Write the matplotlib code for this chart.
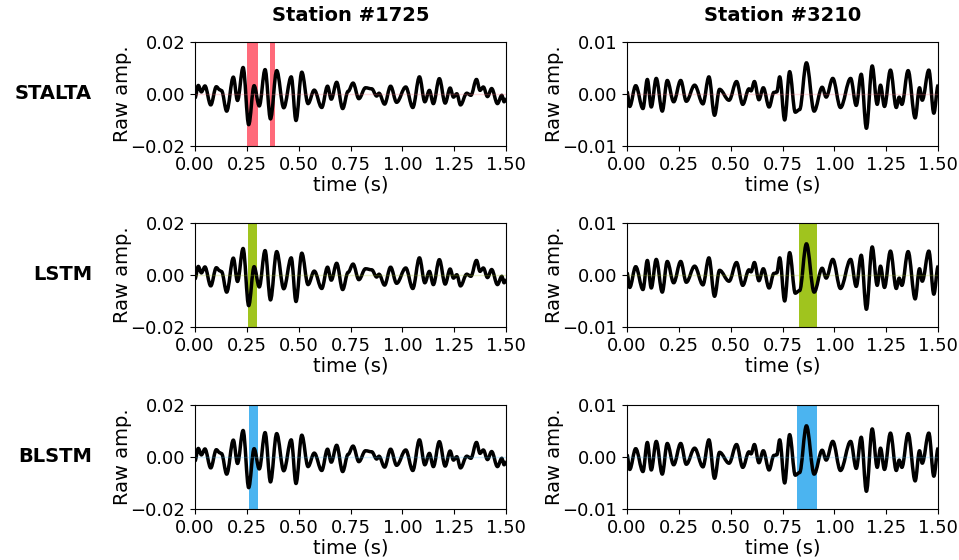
import numpy as np
import matplotlib
matplotlib.use('Agg')
import matplotlib.pyplot as plt
from matplotlib.path import Path
from matplotlib.patches import PathPatch

# waveform extrema (amplitude in units of 1e-3)
t_1725 = [0.000, 0.016, 0.031, 0.048, 0.076, 0.103, 0.120, 0.128, 0.153, 0.185,
          0.205, 0.232, 0.259, 0.285, 0.310, 0.338, 0.364, 0.394, 0.428, 0.464,
          0.487, 0.515, 0.545, 0.575, 0.611, 0.639, 0.657, 0.683, 0.712, 0.738,
          0.762, 0.790, 0.822, 0.852, 0.876, 0.887, 0.914, 0.943, 0.972, 1.016,
          1.050, 1.082, 1.108, 1.130, 1.149, 1.178, 1.206, 1.230, 1.246, 1.262,
          1.280, 1.310, 1.330, 1.357, 1.374, 1.390, 1.410, 1.430, 1.458, 1.479,
          1.490, 1.500]
a_1725 = [-1.5, 3.3, 0.8, 3.1, -4.2, 2.8, 1.6, 1.3, -6.6, 6.5,
          -2.5, 10.2, -11.8, 3.2, -4.6, 9.4, -9.6, 9.0, -5.3, 6.6,
          -10.2, 8.4, -3.7, 1.5, -5.2, 3.0, -2.0, 4.5, -5.6, 1.0,
          4.2, -1.8, 2.4, 2.0, -0.8, 0.3, -3.9, 3.0, -3.2, 2.7,
          -5.2, 6.6, -3.0, 1.4, -3.7, 5.9, -3.5, 2.3, -1.2, 0.1,
          -4.2, 0.3, -0.5, 5.6, 1.4, 2.7, -1.0, 2.1, -3.7, -0.5,
          -3.0, -1.8]

t_3210 = [0.000, 0.013, 0.042, 0.077, 0.098, 0.117, 0.141, 0.170, 0.194, 0.225,
          0.259, 0.286, 0.326, 0.366, 0.395, 0.422, 0.446, 0.492, 0.528, 0.558,
          0.588, 0.598, 0.614, 0.636, 0.657, 0.685, 0.708, 0.722, 0.736, 0.760,
          0.784, 0.811, 0.832, 0.865, 0.902, 0.941, 0.960, 0.992, 1.029, 1.078,
          1.105, 1.129, 1.154, 1.182, 1.206, 1.222, 1.241, 1.270, 1.298, 1.312,
          1.325, 1.355, 1.389, 1.410, 1.423, 1.455, 1.479, 1.500]
a_3210 = [0.4, -2.4, 1.6, -2.8, 2.8, -2.5, 3.0, -3.3, 2.6, -1.5,
          2.6, -1.4, 1.7, -1.9, 3.3, -4.1, 0.9, -1.2, 2.4, -2.0,
          1.0, 0.6, 2.4, -1.1, 1.2, -2.5, 0.3, 0.4, 3.3, -5.0,
          4.3, -3.5, -3.0, 6.0, -3.3, 1.3, -0.6, 3.0, -2.6, 3.0,
          -2.2, 3.8, -6.6, 5.4, -2.0, 1.7, -2.4, 4.6, -2.6, -0.6,
          -2.0, 4.5, -4.6, 1.2, -1.2, 4.6, -3.7, 1.7]

methods = ['STALTA', 'LSTM', 'BLSTM']
stations = ['Station #1725', 'Station #3210']
colors = ['#ff6a7a', '#a0c41e', '#4bb4f0']

# detected windows (s)
stalta_1725 = [(0.252, 0.302), (0.362, 0.386)]
stalta_3210 = []
lstm_1725 = [(0.257, 0.300)]
lstm_3210 = [(0.830, 0.914)]
blstm_1725 = [(0.259, 0.305)]
blstm_3210 = [(0.819, 0.914)]

windows = [[stalta_1725, stalta_3210],
           [lstm_1725, lstm_3210],
           [blstm_1725, blstm_3210]]
waves = [(t_1725, a_1725), (t_3210, a_3210)]
ylims = [0.02, 0.01]


def smooth_path(t, a):
    # cubic bezier through the extrema, flat tangent at each one
    a = np.array(a) * 1e-3
    verts = [(t[0], a[0])]
    codes = [Path.MOVETO]
    for i in range(len(t) - 1):
        dt = t[i + 1] - t[i]
        verts += [(t[i] + 0.36 * dt, a[i]), (t[i + 1] - 0.36 * dt, a[i + 1]),
                  (t[i + 1], a[i + 1])]
        codes += [Path.CURVE4] * 3
    return Path(verts, codes)


plt.rcParams['font.family'] = 'DejaVu Sans'
fig = plt.figure(figsize=(9.59, 5.6), dpi=100)

lefts = [0.2033, 0.6538]
bottoms = [0.7393, 0.4161, 0.0911]
w, h = 0.3245, 0.1857

for r, m in enumerate(methods):
    for c in range(2):
        ax = fig.add_axes([lefts[c], bottoms[r], w, h])
        for (x0, x1) in windows[r][c]:
            ax.axvspan(x0, x1, color=colors[r], lw=0)
        ax.axhline(0, color=colors[r], alpha=0.25, lw=1)
        t, a = waves[c]
        ax.add_patch(PathPatch(smooth_path(t, a), fill=False, edgecolor='black',
                               lw=2.5, joinstyle='round', capstyle='butt'))
        ax.set_xlim(0, 1.5)
        ax.set_ylim(-ylims[c], ylims[c])
        ax.set_xticks(np.arange(0, 1.51, 0.25))
        ax.set_yticks([-ylims[c], 0, ylims[c]])
        ax.tick_params(labelsize=13)
        ax.set_xlabel('time (s)', fontsize=14, labelpad=1)
        ax.set_ylabel('Raw amp.', fontsize=14, labelpad=-1)
        if r == 0:
            ax.set_title(stations[c], fontsize=14, fontweight='bold', pad=15)
    fig.text(0.096, bottoms[r] + h / 2, m, fontsize=14, fontweight='bold',
             ha='right', va='center')

plt.savefig('out.png', dpi=100)
plt.close()
